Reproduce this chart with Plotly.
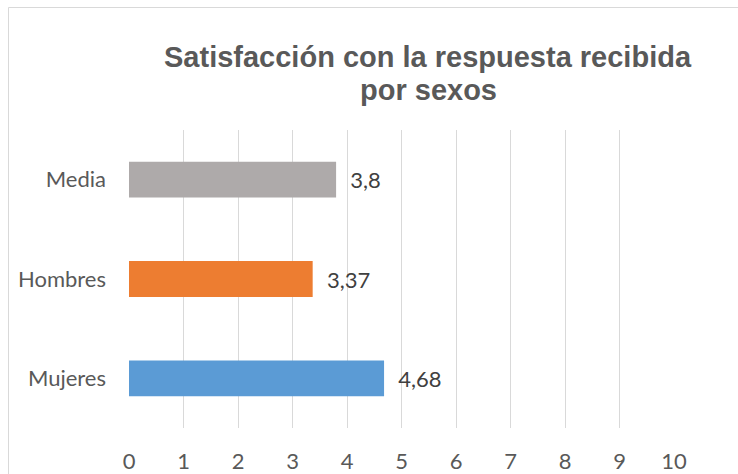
import plotly.graph_objects as go

categories = ["Mujeres", "Hombres", "Media"]
values = [4.68, 3.37, 3.8]
bar_colors = ["#5B9BD5", "#ED7D31", "#AEAAAA"]
x_ticks = list(range(0, 11))
title_lines = ["Satisfacción con la respuesta recibida", "por sexos"]

labels = [("%g" % v).replace(".", ",") for v in values]

W, H = 738, 474
L, R, T, B = 129, 64, 130, 46
PW, PH = W - L - R, H - T - B
FONT = "Lato"
FS = 22

fig = go.Figure()
fig.add_trace(go.Bar(
    y=categories, x=values, orientation="h",
    marker=dict(color=bar_colors, line=dict(width=0)),
    text=labels, texttemplate="  %{text}", textposition="outside",
    textfont=dict(family=FONT, size=FS, color="#404040"),
    cliponaxis=False, constraintext="none",
    width=0.36,
))

annotations = []
for i, line in enumerate(title_lines):
    annotations.append(dict(
        text=line, xref="paper", yref="paper",
        x=(428 - L) / PW, y=(H - B - (57 + 33 * i)) / PH,
        xanchor="center", yanchor="middle", showarrow=False,
        font=dict(family="Liberation Sans", size=29, color="#595959", weight="bold"),
    ))

fig.update_layout(
    width=W, height=H,
    margin=dict(l=L, r=R, t=T, b=B, autoexpand=False),
    paper_bgcolor="white", plot_bgcolor="white",
    showlegend=False,
    bargap=0.64,
    annotations=annotations,
    xaxis=dict(range=[0, 10], tickvals=x_ticks, ticktext=[str(t) for t in x_ticks],
               showgrid=True, gridcolor="#D9D9D9", gridwidth=1.3, zeroline=False,
               showline=False, ticks="", ticklabelstandoff=18,
               tickfont=dict(family=FONT, size=FS, color="#595959"), fixedrange=True),
    yaxis=dict(showgrid=False, zeroline=False, showline=False, ticks="",
               ticklabelstandoff=22,
               tickfont=dict(family=FONT, size=FS, color="#595959"), fixedrange=True),
    shapes=[dict(type="rect", xref="paper", yref="paper",
                 x0=-(L - 8.5) / PW, x1=(W + 10 - L) / PW,
                 y0=-(B + 20) / PH, y1=(H - B - 7.5) / PH,
                 line=dict(color="#D9D9D9", width=1), fillcolor="rgba(0,0,0,0)", layer="below")],
)

fig.write_html("out.html", config={"displayModeBar": False},
               post_script="document.body.style.margin='0';document.body.style.overflow='hidden';")
